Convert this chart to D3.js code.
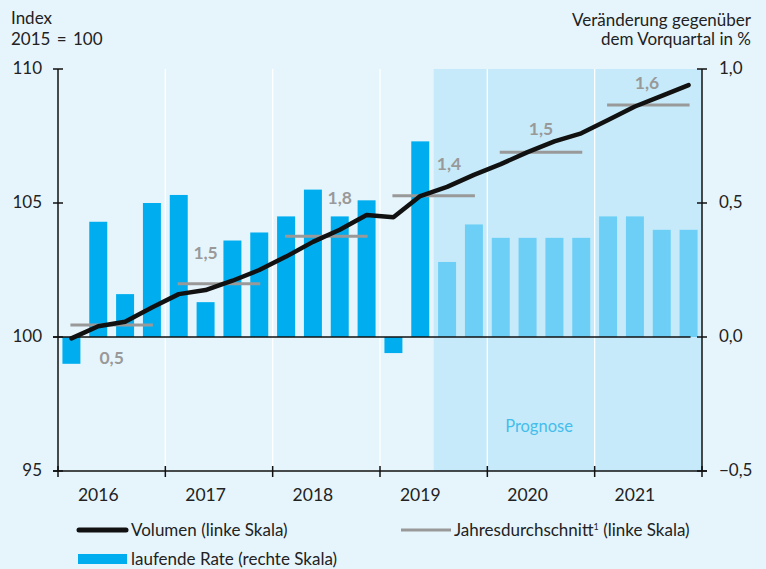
<!DOCTYPE html>
<html>
<head>
<meta charset="utf-8">
<script src="https://cdn.jsdelivr.net/npm/d3@7"></script>
<style>
  html, body { margin: 0; padding: 0; background: #e6f5fc; }
  svg { display: block; }
  text { font-family: Lato, "Noto Sans", sans-serif; fill: #222; }
</style>
</head>
<body>
<svg id="chart" width="766" height="569"></svg>
<script>
// Quarterly data, 2016 Q1 – 2021 Q4
const years = [2016, 2017, 2018, 2019, 2020, 2021];
const quarters = years.flatMap(y => [1, 2, 3, 4].map(q => `${y}Q${q}`));

// Volume index, 2015 = 100 (left scale)
const volume = [99.95, 100.4, 100.57, 101.1, 101.6, 101.75, 102.1, 102.5,
                103.0, 103.55, 104.0, 104.55, 104.47, 105.26, 105.6, 106.05,
                106.45, 106.9, 107.3, 107.6, 108.1, 108.6, 109.0, 109.4];

// Quarter-on-quarter change in % (right scale)
const rate = [-0.10, 0.43, 0.16, 0.50, 0.53, 0.13, 0.36, 0.39,
              0.45, 0.55, 0.45, 0.51, -0.06, 0.73, 0.28, 0.42,
              0.37, 0.37, 0.37, 0.37, 0.45, 0.45, 0.40, 0.40];

// Annual averages (left scale) and annual growth labels
const annualAvg = [100.45, 101.99, 103.76, 105.27, 106.89, 108.66];
const annualGrowth = ["0,5", "1,5", "1,8", "1,4", "1,5", "1,6"];

// First forecast quarter
const forecastStart = "2019Q3";

const leftTicks = [95, 100, 105, 110];
const rightTicks = [-0.5, 0, 0.5, 1.0];

// Placement of the growth labels: quarters from year start, pixel offset from the average line
const growthLabelPos = [
  { q: 2.0, dy: 33 }, { q: 1.5, dy: -31 }, { q: 2.5, dy: -39 },
  { q: 2.57, dy: -32 }, { q: 2.0, dy: -24 }, { q: 1.95, dy: -22 }
];

const svg = d3.select("#chart");
const W = 766, H = 569;
const m = { left: 58, right: 64, top: 69, bottom: 98 };
const x0 = m.left, x1 = W - m.right, y0 = m.top, y1 = H - m.bottom;

const colors = {
  bg: "#e6f5fc",
  shade: "#c6eaf9",
  bar: "#00aeef",
  barForecast: "#6dcff6",
  avg: "#999999",
  line: "#111111",
  prognose: "#45bdec"
};

svg.append("rect").attr("width", W).attr("height", H).attr("fill", colors.bg);

const x = d3.scaleBand().domain(quarters).range([x0, x1])
  .paddingInner(0.33).paddingOuter(0.165);
const step = x.step();
const xStart = q => x(q) - (step - x.bandwidth()) / 2; // left edge of the quarter slot
const xCenter = q => x(q) + x.bandwidth() / 2;

const yL = d3.scaleLinear().domain([95, 110]).range([y1, y0]);
const yR = d3.scaleLinear().domain([-0.5, 1.0]).range([y1, y0]);

// Forecast shading
const fIdx = quarters.indexOf(forecastStart);
svg.append("rect")
  .attr("x", xStart(forecastStart)).attr("y", y0)
  .attr("width", x1 - xStart(forecastStart)).attr("height", y1 - y0)
  .attr("fill", colors.shade);

// White separators between years
svg.append("g").selectAll("line")
  .data(years.slice(1))
  .join("line")
  .attr("x1", d => xStart(`${d}Q1`)).attr("x2", d => xStart(`${d}Q1`))
  .attr("y1", y0).attr("y2", y1)
  .attr("stroke", "#ffffff").attr("stroke-width", 1.3);

// Bars: quarterly rate
svg.append("g").selectAll("rect")
  .data(quarters.map((q, i) => ({ q, v: rate[i], i })))
  .join("rect")
  .attr("x", d => x(d.q))
  .attr("width", x.bandwidth())
  .attr("y", d => Math.min(yR(d.v), yR(0)))
  .attr("height", d => Math.abs(yR(d.v) - yR(0)))
  .attr("fill", d => d.i >= fIdx ? colors.barForecast : colors.bar);

// Zero line
svg.append("line")
  .attr("x1", x0 - 5).attr("x2", xCenter(quarters[quarters.length - 1]) + 2)
  .attr("y1", yR(0)).attr("y2", yR(0))
  .attr("stroke", "#111").attr("stroke-width", 1.5);

// "Prognose" label
svg.append("text")
  .attr("x", (xStart("2020Q1") + xStart("2021Q1")) / 2 - 2)
  .attr("y", 431.5)
  .attr("text-anchor", "middle")
  .attr("font-size", 16.5)
  .style("fill", colors.prognose)
  .text("Prognose");

// Annual average segments
svg.append("g").selectAll("line")
  .data(years.map((y, i) => ({ y, v: annualAvg[i] })))
  .join("line")
  .attr("x1", d => xCenter(`${d.y}Q1`) - 1)
  .attr("x2", d => xCenter(`${d.y}Q4`) + 1)
  .attr("y1", d => yL(d.v)).attr("y2", d => yL(d.v))
  .attr("stroke", colors.avg).attr("stroke-width", 3);

// Annual growth labels
svg.append("g").selectAll("text")
  .data(years.map((y, i) => ({ y, v: annualAvg[i], t: annualGrowth[i], p: growthLabelPos[i] })))
  .join("text")
  .attr("x", d => xStart(`${d.y}Q1`) + d.p.q * step)
  .attr("y", d => yL(d.v) + d.p.dy)
  .attr("dy", "0.36em")
  .attr("text-anchor", "middle")
  .attr("font-size", 17.5)
  .attr("font-weight", 700)
  .style("fill", colors.avg)
  .text(d => d.t);

// Volume line
svg.append("path")
  .datum(quarters.map((q, i) => ({ q, v: volume[i] })))
  .attr("fill", "none")
  .attr("stroke", colors.line)
  .attr("stroke-width", 4.5)
  .attr("stroke-linejoin", "round")
  .attr("stroke-linecap", "round")
  .attr("d", d3.line().x(d => xCenter(d.q)).y(d => yL(d.v)));

// Axes
const axisG = svg.append("g").attr("stroke", "#111").attr("stroke-width", 1.5);
axisG.append("line").attr("x1", x0).attr("x2", x0).attr("y1", y0).attr("y2", y1);
axisG.append("line").attr("x1", x1).attr("x2", x1).attr("y1", y0).attr("y2", y1);
axisG.append("line").attr("x1", x0 - 5).attr("x2", x1 + 5).attr("y1", y1).attr("y2", y1);

// Left ticks and labels
axisG.selectAll(".tl").data(leftTicks).join("line").attr("class", "tl")
  .attr("x1", x0 - 5).attr("x2", x0 + 5)
  .attr("y1", d => yL(d)).attr("y2", d => yL(d));
svg.append("g").selectAll("text").data(leftTicks).join("text")
  .attr("x", x0 - 16).attr("y", d => yL(d)).attr("dy", "0.32em")
  .attr("text-anchor", "end").attr("font-size", 17)
  .text(d => d);

// Right ticks and labels
axisG.selectAll(".tr").data(rightTicks).join("line").attr("class", "tr")
  .attr("x1", x1 - 5).attr("x2", x1 + 5)
  .attr("y1", d => yR(d)).attr("y2", d => yR(d));
const fmtR = d3.format(".1f");
svg.append("g").selectAll("text").data(rightTicks).join("text")
  .attr("x", x1 + 17).attr("y", d => yR(d)).attr("dy", "0.32em")
  .attr("text-anchor", "start").attr("font-size", 17)
  .text(d => fmtR(d).replace(".", ","));

// Bottom ticks at year boundaries and year labels
const yearEdges = years.map(y => xStart(`${y}Q1`)).concat([x1]);
axisG.selectAll(".tb").data(yearEdges).join("line").attr("class", "tb")
  .attr("x1", d => d).attr("x2", d => d)
  .attr("y1", y1 - 5).attr("y2", y1 + 6);
svg.append("g").selectAll("text").data(years).join("text")
  .attr("x", d => xStart(`${d}Q1`) + 1.5 * step)
  .attr("y", 500.5)
  .attr("text-anchor", "middle").attr("font-size", 17.5)
  .text(d => d);

// Axis titles
svg.append("text").attr("x", 11).attr("y", 24).attr("font-size", 17).text("Index");
svg.append("text").attr("x", 11).attr("y", 45).attr("font-size", 17)
  .attr("word-spacing", 2).text("2015 = 100");
svg.append("text").attr("x", 751).attr("y", 26).attr("text-anchor", "end")
  .attr("font-size", 17).text("Veränderung gegenüber");
svg.append("text").attr("x", 751).attr("y", 45).attr("text-anchor", "end")
  .attr("font-size", 17).text("dem Vorquartal in %");

// Legend
const lg = svg.append("g");
lg.append("line").attr("x1", 79).attr("x2", 126).attr("y1", 530).attr("y2", 530)
  .attr("stroke", colors.line).attr("stroke-width", 5).attr("stroke-linecap", "round");
lg.append("text").attr("x", 131).attr("y", 535.5).attr("font-size", 17)
  .text("Volumen (linke Skala)");
lg.append("line").attr("x1", 401).attr("x2", 451).attr("y1", 530).attr("y2", 530)
  .attr("stroke", colors.avg).attr("stroke-width", 3);
const jt = lg.append("text").attr("x", 454).attr("y", 535.5).attr("font-size", 17);
jt.append("tspan").text("Jahresdurchschnitt");
jt.append("tspan").attr("font-size", 9).attr("dy", -6).text("1");
jt.append("tspan").attr("dy", 6).text(" (linke Skala)");
lg.append("rect").attr("x", 78).attr("y", 554).attr("width", 49).attr("height", 10)
  .attr("fill", colors.bar);
lg.append("text").attr("x", 131).attr("y", 565).attr("font-size", 17)
  .text("laufende Rate (rechte Skala)");
</script>
</body>
</html>
